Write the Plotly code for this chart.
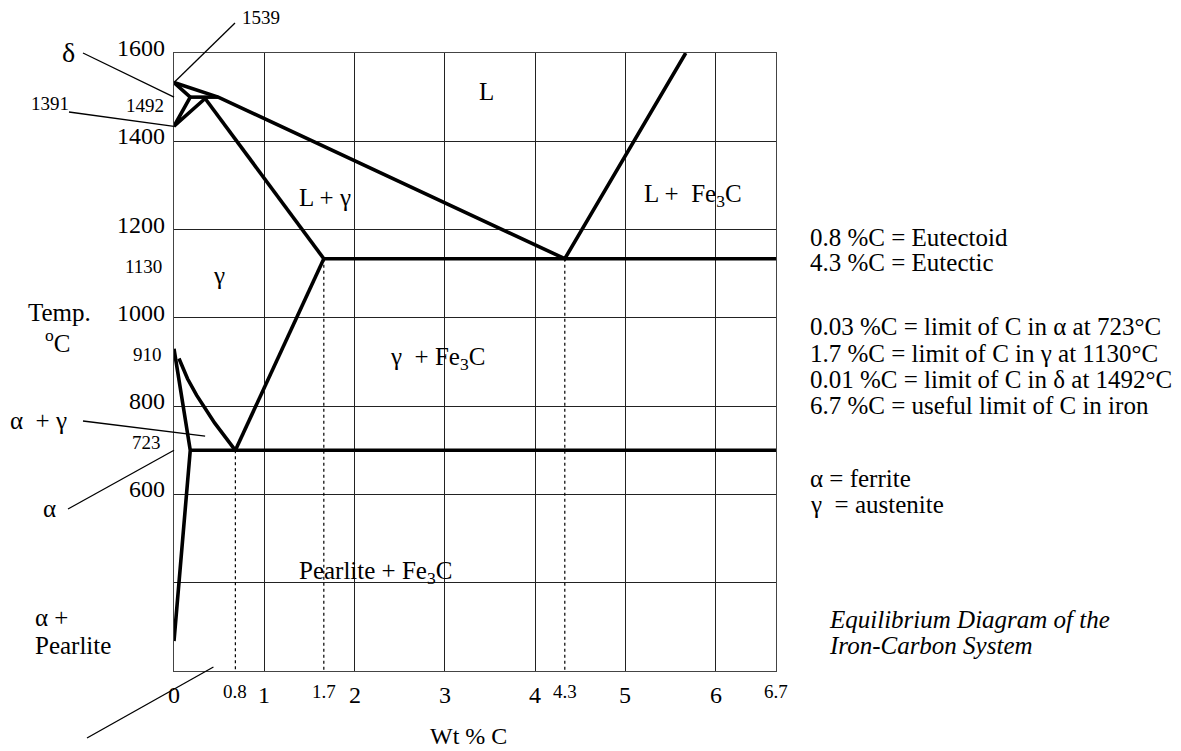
import plotly.graph_objects as go

# ---------------- data (as drawn on the reference) ----------------
# wt % C  /  temperature (deg C)
liq_x = [0.0, 0.49, 4.33, 5.67]
liq_t = [1533, 1500, 1134, 1600]
delta_x = [0.0, 0.18, 0.0, 0.345]
delta_t = [1533, 1500, 1434, 1497]
perit_x = [0.18, 0.49]
perit_t = [1500, 1500]
solidus_x = [0.345, 1.66]
solidus_t = [1497, 1134]
eutectic_x = [1.66, 6.67]
eutectic_t = [1134, 1134]
acm_x = [1.66, 0.68]
acm_t = [1134, 700]
eutectoid_x = [0.18, 6.67]
eutectoid_t = [700, 700]
alpha_x = [0.0, 0.18, 0.0]
alpha_t = [930, 700, 268]
a3_x = [0.055, 0.15, 0.25, 0.35, 0.45, 0.55, 0.68]
a3_t = [908, 862, 825, 792, 762, 735, 700]
dotted_x = [0.68, 1.66, 4.33]
dotted_t = [700, 1134, 1134]

x_grid = [1, 2, 3, 4, 5, 6]
t_grid = [400, 600, 800, 1000, 1200, 1400]
x_tick_vals = [0, 0.68, 1, 1.66, 2, 3, 4, 4.33, 5, 6, 6.67]
x_tick_text = ["0", "0.8", "1", "1.7", "2", "3", "4", "4.3", "5", "6", "6.7"]
x_tick_small = [False, True, False, True, False, False, False, True, False, False, True]
t_tick_vals = [1600, 1400, 1200, 1000, 800, 600]
t_tick_text = ["1600", "1400", "1200", "1000", "800", "600"]

X0, X1 = 0.0, 6.67
T0, T1 = 200, 1600

# ---------------- layout geometry ----------------
# page (screenshot) coordinates of the plotting rectangle
PAGE_OFF = 8          # default body margin of the written HTML page
W, H = 1181, 751
PL, PT = 174, 53      # left/top of plot area on the page
PW, PH = 602, 618     # plot area size
ML = PL - PAGE_OFF
MT = PT - PAGE_OFF
MR = W - ML - PW
MB = H - MT - PH
FONT = "Liberation Serif, Times New Roman, serif"
BIG = 24
TXT = 25
SMALL = 19


def px2paper(px, py):
    return (px - PL) / PW, (PT + PH - py) / PH


def d2paper(x, t):
    return (x - X0) / (X1 - X0), (t - T0) / (T1 - T0)


fig = go.Figure()

thick = dict(color="black", width=3.6)
for xs, ts in [(liq_x, liq_t), (delta_x, delta_t), (perit_x, perit_t),
               (solidus_x, solidus_t), (eutectic_x, eutectic_t), (acm_x, acm_t),
               (eutectoid_x, eutectoid_t), (alpha_x, alpha_t), (a3_x, a3_t)]:
    fig.add_trace(go.Scatter(x=xs, y=ts, mode="lines", line=thick,
                             hoverinfo="skip", showlegend=False))

for xv, tv in zip(dotted_x, dotted_t):
    fig.add_trace(go.Scatter(x=[xv, xv], y=[tv, T0], mode="lines",
                             line=dict(color="black", width=1.2, dash="dot"),
                             hoverinfo="skip", showlegend=False))

annotations = []


def text_px(txt, px, py, size=TXT, anchor="center", italic=False):
    xp, yp = px2paper(px, py)
    annotations.append(dict(x=xp, y=yp, xref="paper", yref="paper", text=txt,
                            showarrow=False, xanchor=anchor, yanchor="middle",
                            font=dict(family=FONT, size=size, color="black",
                                      style="italic" if italic else "normal")))


# x tick labels
for v, t, s in zip(x_tick_vals, x_tick_text, x_tick_small):
    xp = (v - X0) / (X1 - X0)
    _, yp = px2paper(0, 691 if s else 695)
    annotations.append(dict(x=xp, y=yp, xref="paper", yref="paper", text=t,
                            showarrow=False, xanchor="center", yanchor="middle",
                            font=dict(family=FONT, size=SMALL if s else BIG, color="black")))

# y tick labels (big)
for v, t in zip(t_tick_vals, t_tick_text):
    _, yp = d2paper(0, v)
    xp, _ = px2paper(167, 0)
    annotations.append(dict(x=xp, y=yp, xref="paper", yref="paper", text=t,
                            showarrow=False, xanchor="right", yanchor="middle", yshift=5,
                            font=dict(family=FONT, size=BIG, color="black")))

# small y labels
text_px("1130", 164, 266, SMALL, "right")
text_px("910", 164, 354, SMALL, "right")
text_px("723", 163, 442, SMALL, "right")
text_px("1539", 261, 18, SMALL)
text_px("1391", 50, 103, SMALL)
text_px("1492", 145, 105, SMALL)

# left side labels
text_px("\u03b4", 68, 52, 28)
text_px("Temp.", 59, 312)
text_px("<sup>o</sup>C", 58, 341)
text_px("\u03b1 \u00a0+ \u03b3", 38, 420)
text_px("\u03b1", 49, 508)
text_px("\u03b1 +", 33, 617, TXT, "left")
text_px("Pearlite", 33, 645, TXT, "left")

# axis title
text_px("Wt % C", 468, 736, BIG)

# region labels
text_px("L", 486, 91)
text_px("L + \u03b3", 325, 197)
text_px("L + \u00a0Fe<sub>3</sub>C", 693, 196)
text_px("\u03b3", 219, 275)
text_px("\u03b3 \u00a0+ Fe<sub>3</sub>C", 437, 358)
text_px("Pearlite + Fe<sub>3</sub>C", 375, 572)

# right notes
notes = [
    ("0.8 %C = Eutectoid", 237),
    ("4.3 %C = Eutectic", 263),
    ("0.03 %C = limit of C in \u03b1 at 723\u00b0C", 327),
    ("1.7 %C = limit of C in \u03b3 at 1130\u00b0C", 353),
    ("0.01 %C = limit of C in \u03b4 at 1492\u00b0C", 379),
    ("6.7 %C = useful limit of C in iron", 405),
    ("\u03b1 = ferrite", 478),
    ("\u03b3 \u00a0= austenite", 504),
]
for txt, py in notes:
    text_px(txt, 808, py, TXT, "left")
text_px("Equilibrium Diagram of the", 827, 619, TXT, "left", italic=True)
text_px("Iron-Carbon System", 827, 645, TXT, "left", italic=True)

# leader lines: (data point inside chart) -> (pixel position near the label)
leaders = [
    ((0.0, 1533), (235, 23)),
    ((0.0, 1500), (83, 53)),
    ((0.0, 1434), (69, 112)),
    ((0.345, 732), (83, 421)),
    ((0.0, 700), (68, 509)),
    ((0.437, 209), (87, 738)),
]
shapes = []
for (dx, dt), (px, py) in leaders:
    x0p, y0p = d2paper(dx, dt)
    x1p, y1p = px2paper(px, py)
    shapes.append(dict(type="line", xref="paper", yref="paper",
                       x0=x0p, y0=y0p, x1=x1p, y1=y1p,
                       line=dict(color="black", width=1.3)))

axis_common = dict(showline=True, mirror=True, linecolor="#444", linewidth=1,
                   showgrid=True, gridcolor="#222", gridwidth=1, zeroline=False,
                   ticks="", showticklabels=False, fixedrange=True)

fig.update_layout(
    width=W, height=H,
    margin=dict(l=ML, r=MR, t=MT, b=MB, pad=0),
    paper_bgcolor="white", plot_bgcolor="white",
    xaxis=dict(range=[X0, X1], tickvals=x_grid, **axis_common),
    yaxis=dict(range=[T0, T1], tickvals=t_grid, **axis_common),
    annotations=annotations,
    shapes=shapes,
    showlegend=False,
)

fig.write_html("out.html")
